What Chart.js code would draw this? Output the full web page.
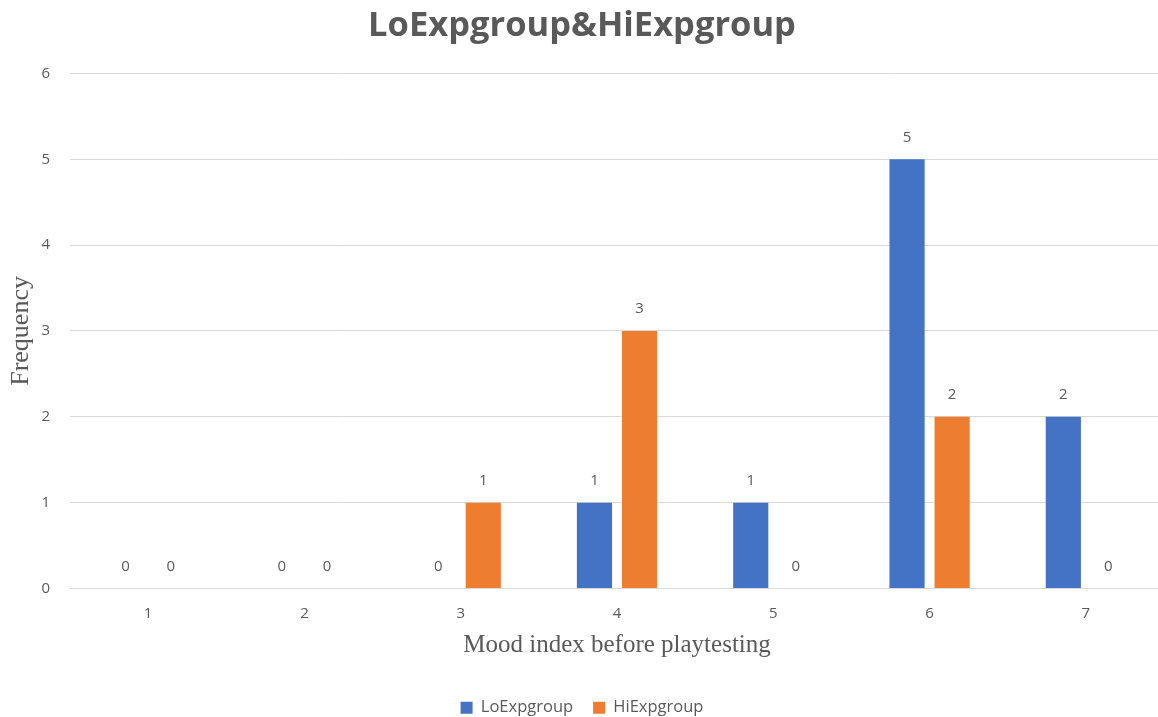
<!doctype html>
<html lang="en">
<head>
    <meta charset="utf-8">
    <title>LoExpgroup&amp;HiExpgroup</title>
    <script src="https://cdn.jsdelivr.net/npm/chart.js"></script>
    <style>
        html, body { margin:0; padding:0; overflow:hidden; background:#fff; }
        #wrap { width:1170px; height:726px; }
    </style>
</head>
<body>
    <div id="wrap"><canvas id="chart-0"></canvas></div>
    <script>
        // mood index 1..7, frequency per group
        const moodIndex = ['1','2','3','4','5','6','7'];
        const loExp = [0, 0, 0, 1, 1, 5, 2];
        const hiExp = [0, 0, 1, 3, 0, 2, 0];
        const yTicks = [0, 1, 2, 3, 4, 5, 6];

        const textGrey = '#595959';

        // value labels above each bar (zeros included)
        const barValues = {
            id: 'barValues',
            afterDatasetsDraw(chart) {
                const ctx = chart.ctx;
                ctx.save();
                ctx.font = '15px "Open Sans"';
                ctx.fillStyle = textGrey;
                ctx.textAlign = 'center';
                ctx.textBaseline = 'middle';
                chart.data.datasets.forEach((ds, i) => {
                    chart.getDatasetMeta(i).data.forEach((bar, j) => {
                        ctx.fillText(String(ds.data[j]), bar.x, bar.y - 22);
                    });
                });
                ctx.restore();
            }
        };

        Chart.defaults.font.family = '"Open Sans"';
        Chart.defaults.color = textGrey;

        new Chart(document.querySelector('#chart-0'), {
            type: 'bar',
            data: {
                labels: moodIndex,
                datasets: [
                    { label: 'LoExpgroup', data: loExp, backgroundColor: '#4472C4' },
                    { label: 'HiExpgroup', data: hiExp, backgroundColor: '#ED7D31' }
                ]
            },
            options: {
                responsive: true,
                maintainAspectRatio: false,
                animation: false,
                categoryPercentage: 0.577,
                barPercentage: 0.78,
                layout: { padding: { left: 0, right: 6, top: 3, bottom: 0 } },
                plugins: {
                    title: {
                        display: true,
                        text: 'LoExpgroup&HiExpgroup',
                        color: textGrey,
                        font: { size: 34.5, weight: 'bold', family: '"Open Sans"' },
                        padding: { top: 2, bottom: 27 }
                    },
                    legend: {
                        position: 'bottom',
                        labels: {
                            boxWidth: 12, boxHeight: 12,
                            color: textGrey,
                            font: { size: 16.5 },
                            padding: 20
                        }
                    },
                    tooltip: { enabled: false }
                },
                scales: {
                    x: {
                        grid: { display: false },
                        border: { display: true, color: '#d9d9d9' },
                        ticks: { font: { size: 15 }, color: textGrey, padding: 8 },
                        title: {
                            display: true,
                            text: 'Mood index before playtesting',
                            font: { size: 25, family: 'Liberation Serif' },
                            color: textGrey,
                            padding: { top: 0, bottom: 19 }
                        }
                    },
                    y: {
                        min: 0, max: 6,
                        afterBuildTicks(scale) {
                            scale.ticks = yTicks.map(v => ({ value: v }));
                        },
                        afterFit(scale) {
                            scale.width = 70;
                        },
                        grid: { color: '#d9d9d9', drawTicks: false },
                        border: { display: false },
                        ticks: { font: { size: 15 }, color: textGrey, padding: 20 },
                        title: {
                            display: true,
                            text: 'Frequency',
                            font: { size: 26, family: 'Liberation Serif' },
                            color: textGrey,
                            padding: { top: 6, bottom: 5 }
                        }
                    }
                }
            },
            plugins: [barValues]
        });
    </script>
</body>
</html>
